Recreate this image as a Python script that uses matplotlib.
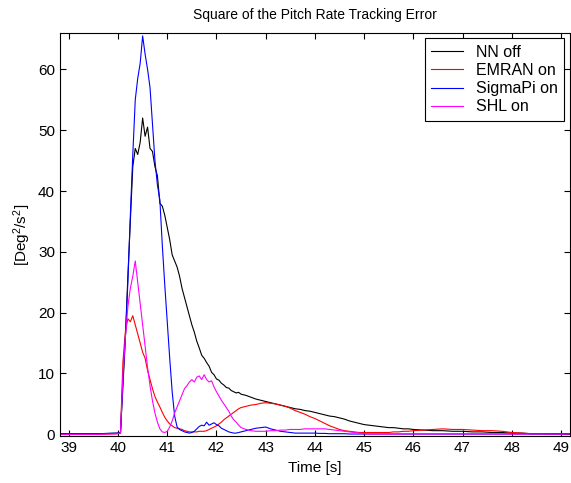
import numpy as np
import matplotlib
matplotlib.use('Agg')
import matplotlib.pyplot as plt

plt.rcParams['font.family'] = ['Liberation Sans', 'DejaVu Sans']
plt.rcParams['mathtext.default'] = 'regular'

# time grid [s]
t = np.concatenate([
    [38.8, 39.2, 39.6, 40.0],
    np.round(np.arange(40.05, 42.501, 0.05), 2),
    np.round(np.arange(42.6, 46.001, 0.1), 2),
    np.round(np.arange(46.2, 49.201, 0.2), 2),
])

# squared pitch rate tracking error [deg^2/s^2]
nn_off = [0.1, 0.1, 0.1, 0.2,
          0.3, 8, 16, 26, 35, 44, 47, 46, 48, 52, 49, 50.5, 47, 46.5, 44,
          42.5, 38, 37.5, 36, 34, 32, 29.5, 28.5, 27.5, 26, 24, 22.5, 21, 19.5,
          18, 16.8, 15.3, 14.2, 13, 12.5, 11.8, 11.2, 10.2, 9.8, 9.1, 8.9, 8.4, 8.1,
          7.7, 7.6, 7.2, 7.0, 6.8, 6.9, 6.6,
          6.4, 6.1, 5.8, 5.6, 5.4, 5.2, 5.0, 4.8, 4.6, 4.4, 4.2, 4.1, 3.9, 3.8,
          3.6, 3.4, 3.2, 3.0, 2.9, 2.7, 2.5, 2.2, 2.0, 1.8, 1.6, 1.5, 1.4, 1.3,
          1.2, 1.1, 1.1, 1.0, 0.9, 0.9, 0.8,
          0.7, 0.6, 0.6, 0.5, 0.5, 0.4, 0.4, 0.3, 0.3, 0.2, 0.2, 0.1, 0.1, 0.1,
          0.1, 0.1]
emran_on = [0.0, 0.0, 0.0, 0.1,
            0.3, 12, 17, 19, 18.5, 19.5, 18, 16.5, 15, 13.5, 12.5, 10.5, 9,
            7.5, 6.2, 5.3, 4.5, 3.6, 2.8, 2.2, 1.7, 1.4, 1.1, 1.0, 0.9, 0.8,
            0.6, 0.5, 0.4, 0.4, 0.4, 0.4, 0.5, 0.5, 0.5, 0.6, 0.8, 1.0, 1.2,
            1.4, 1.7, 2.0, 2.4, 2.7, 3.0, 3.3, 3.6, 3.9, 4.2, 4.4,
            4.6, 4.8, 4.9, 5.1, 5.2, 5.1, 5.0, 4.8, 4.6, 4.3, 3.9, 3.6, 3.3, 2.9,
            2.6, 2.2, 1.8, 1.4, 1.1, 0.8, 0.6, 0.5, 0.4, 0.3, 0.3, 0.3, 0.3, 0.3,
            0.3, 0.3, 0.4, 0.4, 0.5, 0.5, 0.6,
            0.7, 0.8, 0.9, 0.8, 0.8, 0.7, 0.6, 0.6, 0.5, 0.3, 0.2, 0.1, 0.1, 0.05,
            0.05, 0.05]
sigmapi_on = [0.1, 0.1, 0.1, 0.2,
              0.2, 9, 16, 25, 36, 46, 55, 58.5, 61, 65.5, 62.5, 60, 57, 51, 45,
              41, 38.5, 31, 24.5, 18.5, 12.5, 7, 3, 1.2, 0.8, 0.6, 0.4, 0.3,
              0.2, 0.3, 0.5, 0.9, 1.3, 1.5, 1.4, 2.0, 1.5, 1.7, 1.9, 1.6, 1.4,
              1.0, 0.8, 0.6, 0.4, 0.3, 0.2, 0.2, 0.3, 0.4,
              0.6, 0.8, 1.0, 1.1, 1.2, 0.9, 0.7, 0.5, 0.4, 0.3, 0.2, 0.2, 0.2, 0.2,
              0.2, 0.15, 0.15, 0.1, 0.1, 0.1, 0.1, 0.05, 0.05, 0.05, 0.05, 0.05,
              0.05, 0.05, 0.05, 0.05, 0.05, 0.05, 0.05, 0.05, 0.05,
              0.05, 0.05, 0.05, 0.05, 0.05, 0.05, 0.05, 0.05, 0.05, 0.05, 0.05,
              0.05, 0.05, 0.05, 0.05, 0.05]
shl_on = [0.0, 0.0, 0.0, 0.1,
          0.2, 10, 16, 21, 24, 26, 28.5, 25, 21.5, 18, 14.5, 11, 8, 5.5, 3.5,
          2, 0.9, 0.4, 0.3, 0.5, 1.2, 2.2, 3.5, 4.5, 5.5, 6.5, 7.5, 8.0, 8.6,
          9.0, 8.6, 9.4, 9.6, 9.0, 9.8, 9.0, 8.6, 8.8, 7.8, 7.0, 6.3, 5.6, 5.0,
          4.4, 3.8, 3.0, 2.4, 2.0, 1.5, 1.1,
          0.8, 0.6, 0.5, 0.5, 0.5, 0.6, 0.6, 0.7, 0.7, 0.8, 0.8, 0.8, 0.9, 0.9,
          0.9, 0.9, 0.9, 0.8, 0.7, 0.6, 0.5, 0.4, 0.3, 0.2, 0.1, 0.05, 0.05,
          0.05, 0.05, 0.05, 0.05, 0.05, 0.05, 0.05, 0.05,
          0.05, 0.05, 0.05, 0.05, 0.05, 0.05, 0.05, 0.05, 0.05, 0.05, 0.05, 0.05,
          0.05, 0.05, 0.05, 0.05]

labels = ['NN off', 'EMRAN on', 'SigmaPi on', 'SHL on']
colors = ['#000000', '#ff0000', '#0000ff', '#ff00ff']

fig = plt.figure(figsize=(5.71, 4.83), dpi=100)
ax = fig.add_axes([0.105, 0.097, 0.893, 0.835])

for y, lab, c in zip([nn_off, emran_on, sigmapi_on, shl_on], labels, colors):
    ax.plot(t, y, color=c, lw=0.8, label=lab)

ax.set_xlim(38.82, 49.18)
ax.set_ylim(-0.3, 66)
ax.set_xticks(range(39, 50))
ax.set_yticks(range(0, 61, 10))
ax.tick_params(direction='in', top=True, right=True, labelsize=11, length=4)

ax.set_title('Square of the Pitch Rate Tracking Error', fontsize=10, pad=10)
ax.set_xlabel('Time [s]', fontsize=11)
ax.set_ylabel('[Deg$^2$/s$^2$]', fontsize=11)

leg = ax.legend(loc='upper right', fontsize=11.5, fancybox=False, framealpha=1,
                edgecolor='k', borderaxespad=0.35, handlelength=2.0,
                labelspacing=0.2, borderpad=0.4)
leg.get_frame().set_linewidth(0.8)

fig.savefig('out.png', dpi=100)
